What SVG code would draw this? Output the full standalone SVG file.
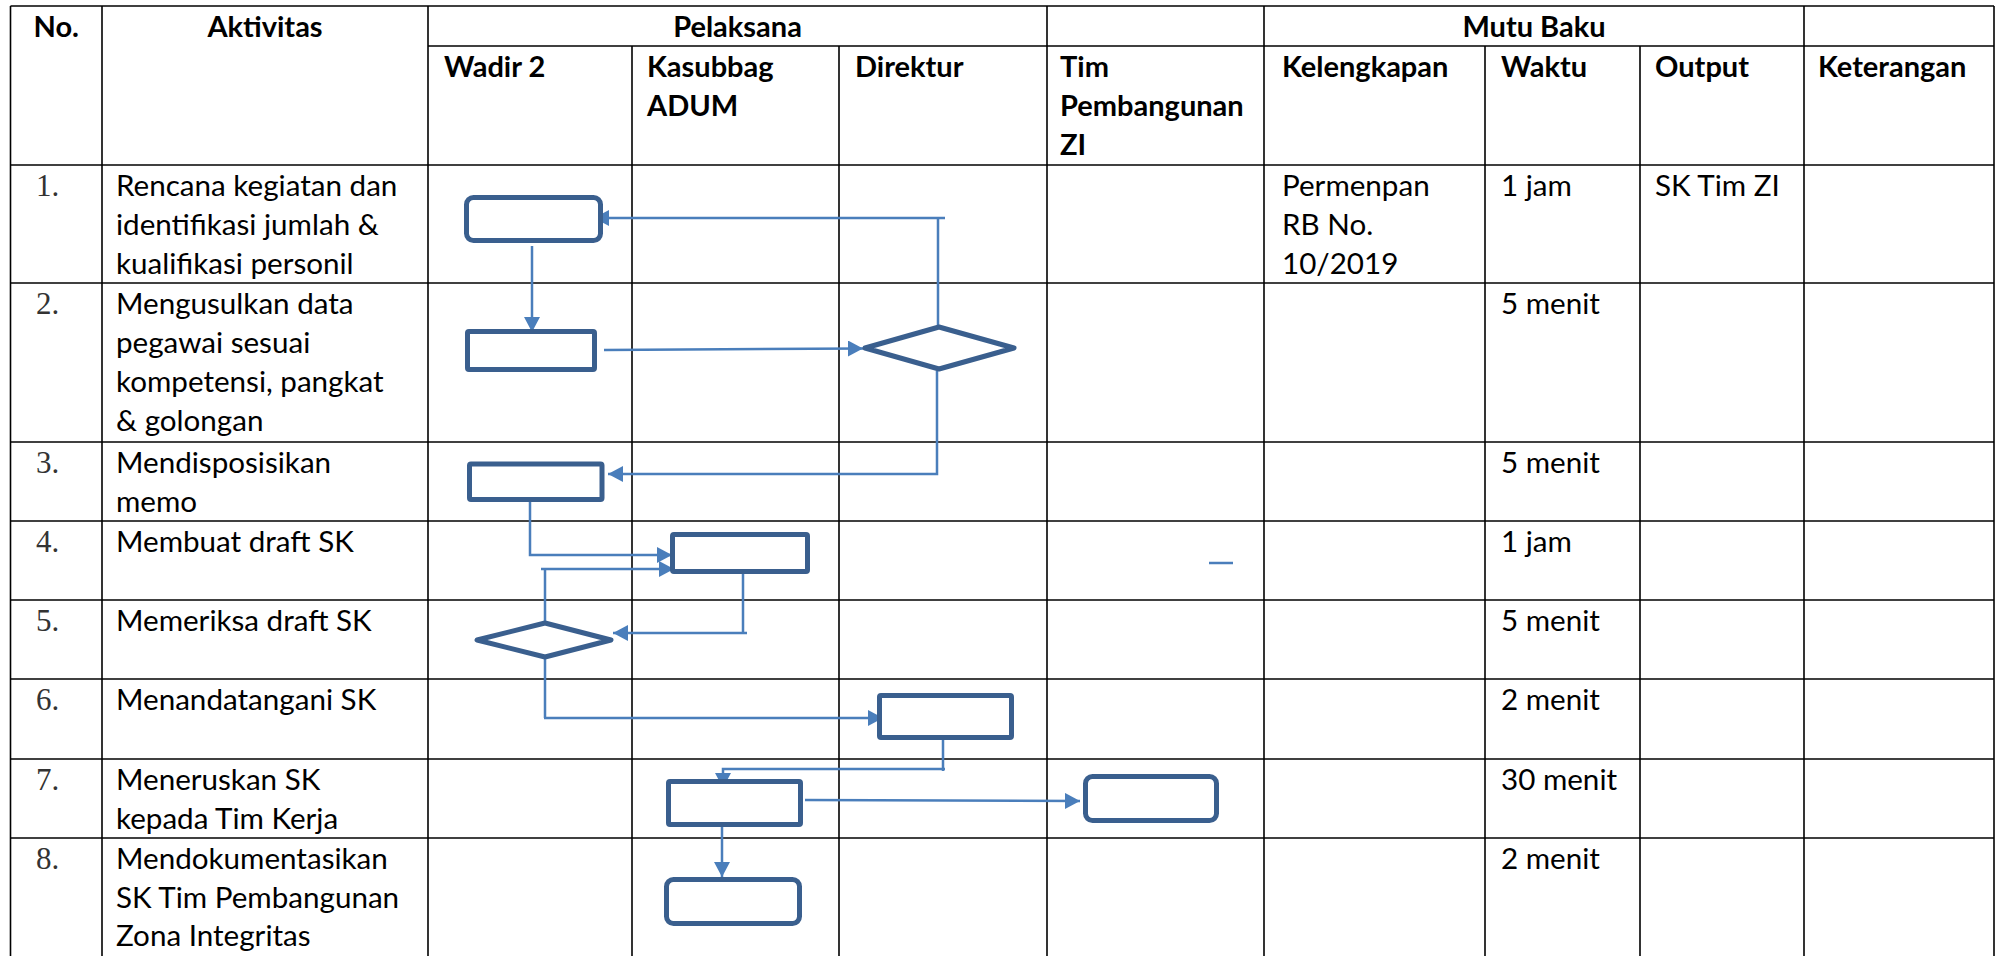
<svg xmlns="http://www.w3.org/2000/svg" width="2002" height="956" viewBox="0 0 2002 956">
<style>
.grid line{stroke:#000;stroke-width:1.6}
.t{font-family:Lato,"Liberation Sans",sans-serif;font-size:29.6px;fill:#000}
.h{font-family:Lato,"Liberation Sans",sans-serif;font-size:29px;font-weight:bold;fill:#000}
.n{font-family:"Liberation Serif",serif;font-size:31px;fill:#333}
.shape{fill:#fff;stroke:#3A5F8E;stroke-width:5;stroke-linejoin:round}
.con{fill:none;stroke:#4A7EBB;stroke-width:2.5}
.arr{marker-end:url(#ah)}
</style>
<defs>
<marker id="ah" markerUnits="userSpaceOnUse" markerWidth="16" markerHeight="16" refX="15" refY="8" orient="auto">
<path d="M0,0 L15,8 L0,16 z" fill="#4A7EBB"/>
</marker>
</defs>
<rect width="2002" height="956" fill="#fff"/>
<g class="grid" id="table">
<line x1="10.5" y1="6" x2="1994" y2="6"/>
<line x1="428" y1="46" x2="1994" y2="46"/>
<line x1="10.5" y1="165" x2="1994" y2="165"/>
<line x1="10.5" y1="283" x2="1994" y2="283"/>
<line x1="10.5" y1="442" x2="1994" y2="442"/>
<line x1="10.5" y1="521" x2="1994" y2="521"/>
<line x1="10.5" y1="600" x2="1994" y2="600"/>
<line x1="10.5" y1="679" x2="1994" y2="679"/>
<line x1="10.5" y1="759" x2="1994" y2="759"/>
<line x1="10.5" y1="838" x2="1994" y2="838"/>
<line x1="10.5" y1="6" x2="10.5" y2="956"/>
<line x1="102" y1="6" x2="102" y2="956"/>
<line x1="428" y1="6" x2="428" y2="956"/>
<line x1="632" y1="46" x2="632" y2="956"/>
<line x1="839" y1="46" x2="839" y2="956"/>
<line x1="1047" y1="6" x2="1047" y2="956"/>
<line x1="1264" y1="6" x2="1264" y2="956"/>
<line x1="1485" y1="46" x2="1485" y2="956"/>
<line x1="1640" y1="46" x2="1640" y2="956"/>
<line x1="1804" y1="6" x2="1804" y2="956"/>
<line x1="1994" y1="6" x2="1994" y2="956"/>
</g>
<g id="headers">
<text class="h" x="33.5" y="37">No.</text>
<text class="h" x="265" y="37" text-anchor="middle">Aktivitas</text>
<text class="h" x="737.5" y="37" text-anchor="middle">Pelaksana</text>
<text class="h" x="1534" y="37" text-anchor="middle">Mutu Baku</text>
<text class="h" x="444" y="77">Wadir 2</text>
<text class="h" x="647" y="77">Kasubbag</text>
<text class="h" x="647" y="116">ADUM</text>
<text class="h" x="855" y="77">Direktur</text>
<text class="h" x="1060" y="77">Tim</text>
<text class="h" x="1060" y="116">Pembangunan</text>
<text class="h" x="1060" y="155">ZI</text>
<text class="h" x="1282" y="77">Kelengkapan</text>
<text class="h" x="1501" y="77">Waktu</text>
<text class="h" x="1655" y="77">Output</text>
<text class="h" x="1818" y="77">Keterangan</text>
</g>
<g id="rows">
<text class="n" x="36" y="196">1.</text>
<text class="t" x="116" y="196">Rencana kegiatan dan</text>
<text class="t" x="116" y="235">identifikasi jumlah &amp;</text>
<text class="t" x="116" y="274">kualifikasi personil</text>
<text class="t" x="1282" y="196">Permenpan</text>
<text class="t" x="1282" y="235">RB No.</text>
<text class="t" x="1282" y="274">10/2019</text>
<text class="t" x="1501" y="196">1 jam</text>
<text class="t" x="1655" y="196">SK Tim ZI</text>

<text class="n" x="36" y="314">2.</text>
<text class="t" x="116" y="314">Mengusulkan data</text>
<text class="t" x="116" y="353">pegawai sesuai</text>
<text class="t" x="116" y="392">kompetensi, pangkat</text>
<text class="t" x="116" y="431">&amp; golongan</text>
<text class="t" x="1501" y="314">5 menit</text>

<text class="n" x="36" y="473">3.</text>
<text class="t" x="116" y="473">Mendisposisikan</text>
<text class="t" x="116" y="512">memo</text>
<text class="t" x="1501" y="473">5 menit</text>

<text class="n" x="36" y="552">4.</text>
<text class="t" x="116" y="552">Membuat draft SK</text>
<text class="t" x="1501" y="552">1 jam</text>

<text class="n" x="36" y="631">5.</text>
<text class="t" x="116" y="631">Memeriksa draft SK</text>
<text class="t" x="1501" y="631">5 menit</text>

<text class="n" x="36" y="710">6.</text>
<text class="t" x="116" y="710">Menandatangani SK</text>
<text class="t" x="1501" y="710">2 menit</text>

<text class="n" x="36" y="790">7.</text>
<text class="t" x="116" y="790">Meneruskan SK</text>
<text class="t" x="116" y="829">kepada Tim Kerja</text>
<text class="t" x="1501" y="790">30 menit</text>

<text class="n" x="36" y="869">8.</text>
<text class="t" x="116" y="869">Mendokumentasikan</text>
<text class="t" x="116" y="908">SK Tim Pembangunan</text>
<text class="t" x="116" y="946">Zona Integritas</text>
<text class="t" x="1501" y="869">2 menit</text>
</g>
<g id="connectors">
<path class="con arr" d="M938,325 V218 M945,218 H594"/>
<path class="con arr" d="M532,246 V332"/>
<path class="con arr" d="M604,350 L863,348.5"/>
<path class="con arr" d="M937,371 V474 H608"/>
<path class="con arr" d="M530,497 V555 H672"/>
<path class="con" d="M545,569 V622"/>
<path class="con arr" d="M541,569 H674"/>
<path class="con arr" d="M743,571 V633 M747,633 H613"/>
<path class="con arr" d="M545,657 V718 M544,718 H883"/>
<path class="con arr" d="M943,737 V771 M945,769 H723 V788"/>
<path class="con arr" d="M805,800 L1080,801"/>
<path class="con arr" d="M722,827 V877"/>
<path class="con" d="M1209,563 H1233"/>
</g>
<g id="n1"><rect class="shape" x="466.5" y="197.5" width="134" height="43" rx="7"/></g>
<g id="n2"><rect class="shape" x="467.5" y="331.5" width="127" height="38" rx="1.5"/></g>
<g id="d1"><polygon class="shape" points="865,348 939,327 1014,348 939,369"/></g>
<g id="n3"><rect class="shape" x="469.5" y="464" width="132.5" height="35.5" rx="1.5"/></g>
<g id="n4"><rect class="shape" x="672.5" y="534.5" width="135" height="37" rx="1.5"/></g>
<g id="d2"><polygon class="shape" points="477,640 545,623 611,640 545,657"/></g>
<g id="n6"><rect class="shape" x="879.5" y="695.5" width="132" height="42" rx="1.5"/></g>
<g id="n7"><rect class="shape" x="668.5" y="781.5" width="132" height="43" rx="1.5"/></g>
<g id="nT"><rect class="shape" x="1085.5" y="776.5" width="131" height="44" rx="7"/></g>
<g id="n8"><rect class="shape" x="666.5" y="879.5" width="133" height="44" rx="7"/></g>
</svg>
